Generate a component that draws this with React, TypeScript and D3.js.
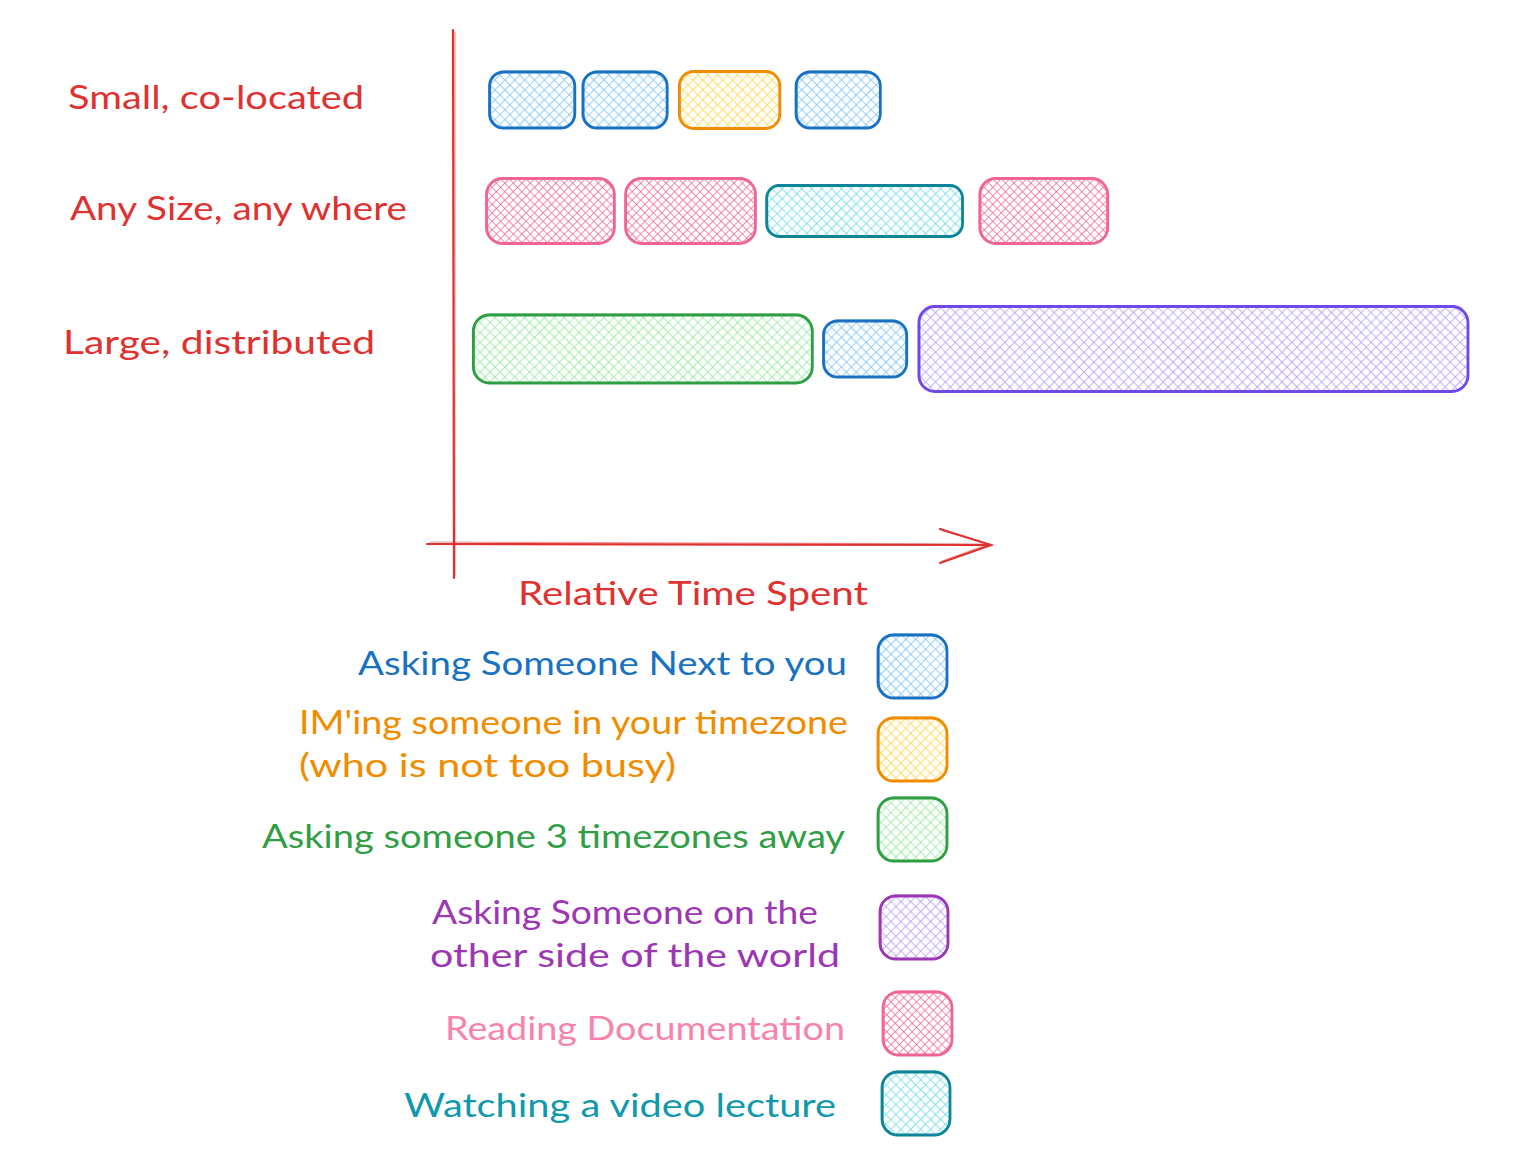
import React, { useEffect, useRef } from 'react';
import * as d3 from 'd3';

// rows of the chart (top to bottom)
const rows = ['Small, co-located', 'Any Size, any where', 'Large, distributed'];

// categories, in legend order
const categories = ['next', 'im', 'tz3', 'world', 'docs', 'video'];
const legendLines = [
  ['Asking Someone Next to you'],
  ["IM'ing someone in your timezone", '(who is not too busy)'],
  ['Asking someone 3 timezones away'],
  ['Asking Someone on the', 'other side of the world'],
  ['Reading Documentation'],
  ['Watching a video lecture'],
];

// segments per row: [category, start, end] in relative time units (0..100)
const smallSegments = [
  ['next', 3.6, 12.0],
  ['next', 12.8, 21.1],
  ['im', 22.3, 32.2],
  ['next', 33.8, 42.1],
];
const anySizeSegments = [
  ['docs', 3.3, 15.9],
  ['docs', 17.0, 29.8],
  ['video', 30.9, 50.2],
  ['docs', 51.9, 64.5],
];
const largeSegments = [
  ['tz3', 2.0, 35.4],
  ['next', 36.5, 44.7],
  ['world', 45.9, 100],
];
const rowSegments = [smallSegments, anySizeSegments, largeSegments];

const axisLabel = 'Relative Time Spent';

// styling per category
const style: Record<string, any> = {
  next: { stroke: '#1971c2', fill: '#74c0fc', text: '#1971c2', h: 56, gap: 7 },
  im: { stroke: '#f08c00', fill: '#ffd43b', text: '#f08c00', h: 57, gap: 7 },
  tz3: { stroke: '#2f9e44', fill: '#8ce99a', text: '#2f9e44', h: 68, gap: 7 },
  world: { stroke: '#7048e8', legendStroke: '#9c36b5', fill: '#b197fc', text: '#9c36b5', h: 85, gap: 7 },
  docs: { stroke: '#f06595', fill: '#f06595', text: '#f783ac', h: 65, gap: 6 },
  video: { stroke: '#0c8599', fill: '#66d9e8', text: '#1098ad', h: 51, gap: 7 },
};

const FONT = 'Lato, "Open Sans", sans-serif';

const App = () => {
  const ref = useRef<SVGSVGElement>(null);

  useEffect(() => {
    const svg = d3.select(ref.current);
    svg.selectAll('*').remove();

    const x = d3.scaleLinear().domain([0, 100]).range([453, 1468]);
    const y = d3.scaleOrdinal<string, number>().domain(rows).range([100, 211, 349]);

    // hatch patterns
    const defs = svg.append('defs');
    categories.forEach((c) => {
      const s = style[c];
      const p = defs
        .append('pattern')
        .attr('id', `hatch-${c}`)
        .attr('patternUnits', 'userSpaceOnUse')
        .attr('width', s.gap)
        .attr('height', s.gap)
        .attr('patternTransform', 'rotate(45)');
      p.append('rect').attr('width', s.gap).attr('height', s.gap).attr('fill', '#fff');
      const sw = c === 'docs' ? 2 : 2.2;
      const op = c === 'docs' ? 0.75 : 0.7;
      p.append('line')
        .attr('x1', 0).attr('y1', 0).attr('x2', 0).attr('y2', s.gap)
        .attr('stroke', s.fill).attr('stroke-width', sw).attr('opacity', op);
      p.append('line')
        .attr('x1', 0).attr('y1', 0).attr('x2', s.gap).attr('y2', 0)
        .attr('stroke', s.fill).attr('stroke-width', sw).attr('opacity', op);
    });

    const sketchRect = (g: any, x0: number, y0: number, w: number, h: number, c: string, stroke?: string) => {
      const r = Math.min(16, h / 4);
      const col = stroke || style[c].stroke;
      g.append('rect')
        .attr('x', x0).attr('y', y0).attr('width', w).attr('height', h)
        .attr('rx', r).attr('fill', `url(#hatch-${c})`)
        .attr('stroke', col).attr('stroke-width', 2.8);
      g.append('rect')
        .attr('x', x0 + 1).attr('y', y0 - 0.8).attr('width', w - 1.5).attr('height', h + 0.6)
        .attr('rx', r).attr('fill', 'none')
        .attr('stroke', col).attr('stroke-width', 1.3).attr('opacity', 0.55);
    };

    // bars
    rowSegments.forEach((segs, i) => {
      const g = svg.append('g');
      const cy = y(rows[i]);
      segs.forEach(([c, s, e]: any) => {
        const h = style[c].h;
        sketchRect(g, x(s), cy - h / 2, x(e) - x(s), h, c);
      });
    });

    // row labels
    const labelX = [68, 70, 63];
    const labelW = [296, 337, 312];
    svg.append('g')
      .selectAll('text')
      .data(rows)
      .join('text')
      .attr('x', (_, i) => labelX[i])
      .attr('y', (d, i) => y(d) - 4 + (i === 2 ? -4 : 0))
      .attr('dominant-baseline', 'central')
      .attr('font-family', FONT)
      .attr('font-size', 32)
      .attr('fill', '#e03131')
      .attr('textLength', (_, i) => labelW[i])
      .attr('lengthAdjust', 'spacingAndGlyphs')
      .text((d) => d);

    // axes
    const axis = svg.append('g').attr('stroke', '#e03131').attr('fill', 'none').attr('stroke-linecap', 'round');
    axis.append('path').attr('d', 'M453,30 L454,578').attr('stroke-width', 2.2);
    axis.append('path').attr('d', 'M455,32 L455,575').attr('stroke-width', 1.2).attr('opacity', 0.5);
    axis.append('path').attr('d', 'M427,544 L990,545').attr('stroke-width', 2.2);
    axis.append('path').attr('d', 'M430,542 L988,544').attr('stroke-width', 1.2).attr('opacity', 0.5);
    axis.append('path').attr('d', 'M940,529 L991,545 L940,563').attr('stroke-width', 2.2);
    axis.append('path').attr('d', 'M943,531 L989,544 L942,561').attr('stroke-width', 1.2).attr('opacity', 0.5);

    svg.append('text')
      .attr('x', 518).attr('y', 592)
      .attr('dominant-baseline', 'central')
      .attr('font-family', FONT).attr('font-size', 32)
      .attr('fill', '#e03131')
      .attr('textLength', 350).attr('lengthAdjust', 'spacingAndGlyphs')
      .text(axisLabel);

    // legend
    const legendBoxes = [
      [878, 635, 69, 63],
      [878, 718, 69, 63],
      [878, 798, 69, 63],
      [880, 896, 68, 63],
      [883, 992, 69, 63],
      [882, 1072, 68, 63],
    ];
    const legendText = [
      [{ x: 358, y: 662, w: 489 }],
      [{ x: 299, y: 721, w: 549 }, { x: 299, y: 764, w: 377 }],
      [{ x: 262, y: 835, w: 583 }],
      [{ x: 432, y: 911, w: 386 }, { x: 430, y: 954, w: 410 }],
      [{ x: 445, y: 1027, w: 400 }],
      [{ x: 404, y: 1104, w: 432 }],
    ];
    const lg = svg.append('g');
    categories.forEach((c, i) => {
      const [bx, by, bw, bh] = legendBoxes[i];
      sketchRect(lg, bx, by, bw, bh, c, style[c].legendStroke);
      legendLines[i].forEach((line, j) => {
        const t = legendText[i][j];
        lg.append('text')
          .attr('x', t.x).attr('y', t.y)
          .attr('dominant-baseline', 'central')
          .attr('font-family', FONT).attr('font-size', 32)
          .attr('fill', style[c].text)
          .attr('textLength', t.w).attr('lengthAdjust', 'spacingAndGlyphs')
          .text(line);
      });
    });
  }, []);

  return (
    <svg
      ref={ref}
      width={1524}
      height={1164}
      style={{ position: 'absolute', left: 0, top: 0, background: '#fff' }}
    />
  );
};

export default App;
